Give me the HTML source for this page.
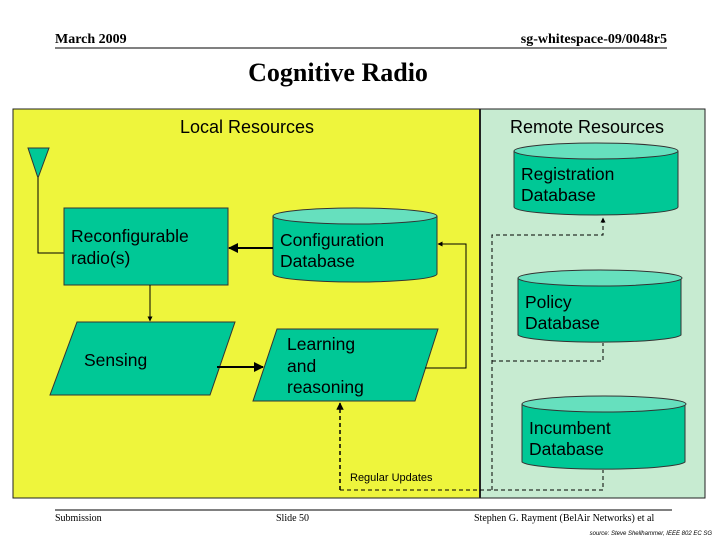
<!DOCTYPE html>
<html><head><style>
body{margin:0;width:720px;height:540px;background:#fff;overflow:hidden}
svg text{font-family:"Liberation Sans",sans-serif}
.s{font-family:"Liberation Serif",serif}
</style></head><body>
<svg width="720" height="540" viewBox="0 0 720 540">
<defs>
<marker id="a" viewBox="0 0 10 10" refX="9" refY="5" markerWidth="5" markerHeight="5" orient="auto"><path d="M0,0L10,5L0,10z" fill="#000"/></marker>
</defs>
<text class="s" x="55" y="43" font-size="14" font-weight="bold">March 2009</text>
<text class="s" x="667" y="43" font-size="14" font-weight="bold" text-anchor="end">sg-whitespace-09/0048r5</text>
<line x1="55" y1="48" x2="667" y2="48" stroke="#000" stroke-width="1"/>
<text class="s" x="338" y="81" font-size="26" font-weight="bold" text-anchor="middle">Cognitive Radio</text>

<rect x="13" y="109" width="467" height="389" fill="#eef53c" stroke="#222"/>
<rect x="480" y="109" width="225" height="389" fill="#c7ebd1" stroke="#222"/>
<line x1="480" y1="109" x2="480" y2="498" stroke="#222" stroke-width="2"/>
<text x="247" y="133" font-size="18" text-anchor="middle">Local Resources</text>
<text x="587" y="133" font-size="18" text-anchor="middle">Remote Resources</text>

<polygon points="28,148 49,148 38,178" fill="#00c896" stroke="#333"/>
<polyline points="38,178 38,253 64,253" fill="none" stroke="#000"/>

<rect x="64" y="208" width="164" height="77" fill="#00c896" stroke="#333"/>
<text x="71" y="242" font-size="17.5">Reconfigurable</text>
<text x="71" y="264" font-size="17.5">radio(s)</text>

<g stroke="#333">
<path d="M273,216 V274 A82,8 0 0 0 437,274 V216" fill="#00c896"/>
<ellipse cx="355" cy="216" rx="82" ry="8" fill="#66e0be"/>
<path d="M514,151 V207 A82,8 0 0 0 678,207 V151" fill="#00c896"/>
<ellipse cx="596" cy="151" rx="82" ry="8" fill="#66e0be"/>
<path d="M518,278 V335 A82,8 0 0 0 681,335 V278" fill="#00c896"/>
<ellipse cx="600" cy="278" rx="82" ry="8" fill="#66e0be"/>
<path d="M522,404 V462 A82,8 0 0 0 685,462 V404" fill="#00c896"/>
<ellipse cx="604" cy="404" rx="82" ry="8" fill="#66e0be"/>
</g>
<g font-size="17.5">
<text x="280" y="246">Configuration</text><text x="280" y="267">Database</text>
<text x="521" y="180">Registration</text><text x="521" y="201">Database</text>
<text x="525" y="308">Policy</text><text x="525" y="329">Database</text>
<text x="529" y="434">Incumbent</text><text x="529" y="455">Database</text>
</g>

<polygon points="77,322 235,322 210,395 50,395" fill="#00c896" stroke="#333"/>
<text x="84" y="366" font-size="17.5">Sensing</text>
<polygon points="277,329 438,329 415,401 253,401" fill="#00c896" stroke="#333"/>
<text x="287" y="350" font-size="17.5">Learning</text>
<text x="287" y="372" font-size="17.5">and</text>
<text x="287" y="393" font-size="17.5">reasoning</text>

<g stroke="#000" fill="none">
<line x1="273" y1="248" x2="229" y2="248" stroke-width="2" marker-end="url(#a)"/>
<line x1="150" y1="285" x2="150" y2="321" marker-end="url(#a)"/>
<line x1="217" y1="367" x2="263" y2="367" stroke-width="2" marker-end="url(#a)"/>
<polyline points="425,368 466,368 466,244 438,244" marker-end="url(#a)"/>
</g>
<g stroke="#000" fill="none" stroke-dasharray="4,3">
<polyline points="340,490 340,403" marker-end="url(#a)" stroke-width="1.5"/>
<polyline points="340,490 603,490 603,470"/>
<polyline points="492,490 492,235 603,235 603,218" marker-end="url(#a)"/>
<polyline points="492,361 603,361 603,343"/>
</g>
<text x="350" y="481" font-size="11">Regular Updates</text>

<line x1="55" y1="510" x2="672" y2="510" stroke="#000"/>
<text class="s" x="55" y="521" font-size="10">Submission</text>
<text class="s" x="276" y="521" font-size="10">Slide 50</text>
<text class="s" x="474" y="521" font-size="10">Stephen G. Rayment (BelAir Networks) et al</text>
<text x="712" y="535" font-size="6" font-style="italic" text-anchor="end">source: Steve Shellhammer, IEEE 802 EC SG</text>
</svg>
</body></html>
